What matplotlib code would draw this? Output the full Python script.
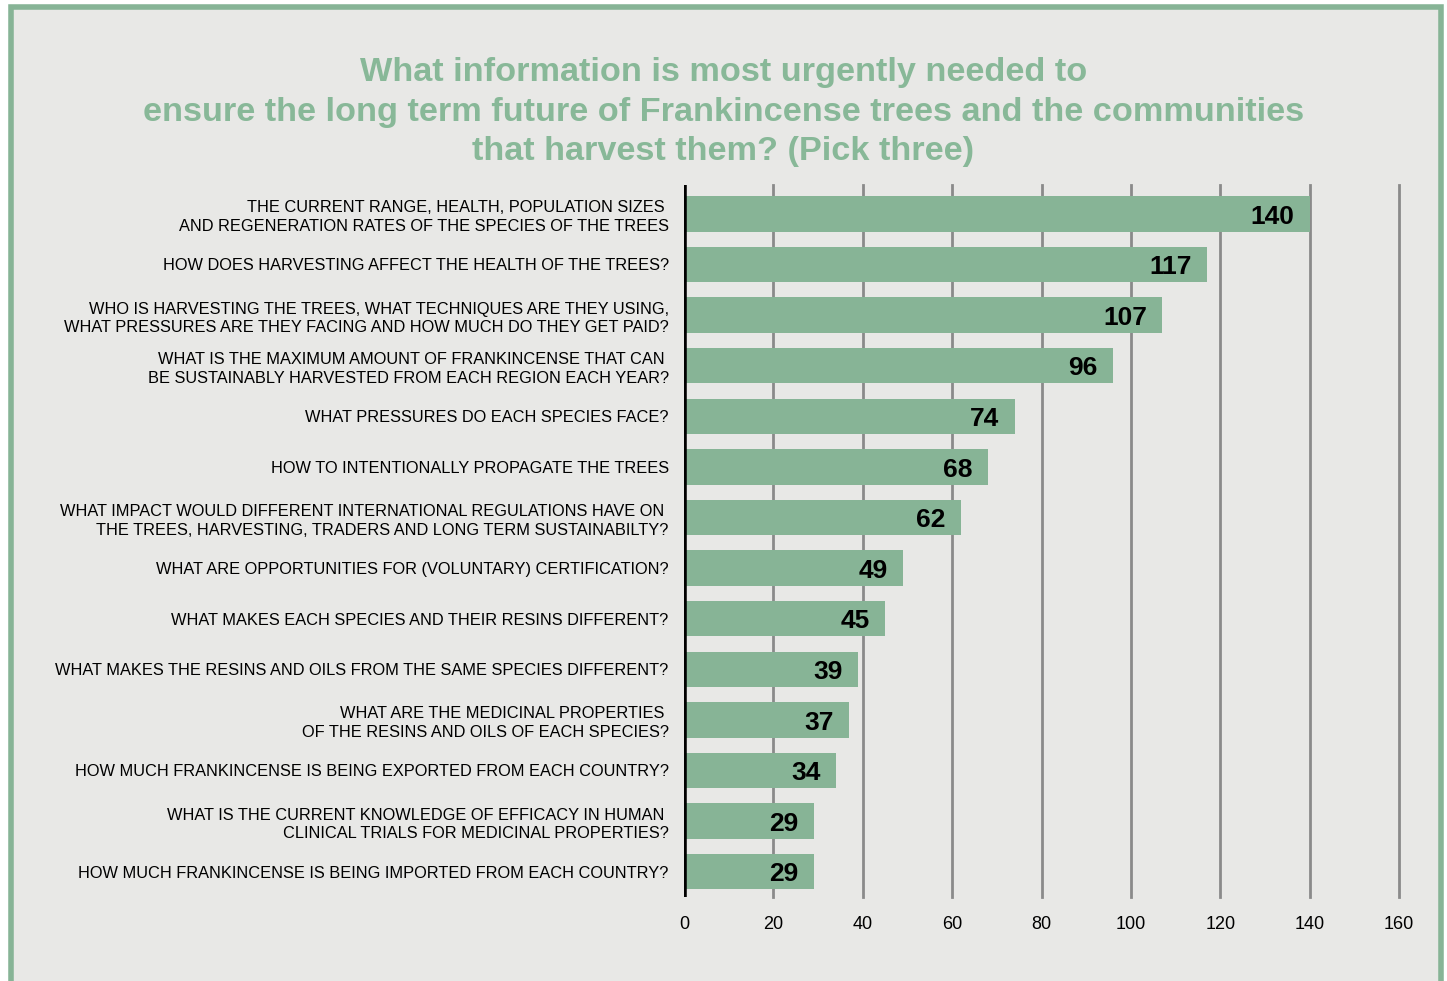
import numpy as np
from matplotlib import pyplot as plt
from matplotlib.patches import Rectangle

plt.rcParams.update({"font.family": ["Liberation Sans", "DejaVu Sans"]})

questions = [
    "THE CURRENT RANGE, HEALTH, POPULATION SIZES \nAND REGENERATION RATES OF THE SPECIES OF THE TREES",
    "HOW DOES HARVESTING AFFECT THE HEALTH OF THE TREES?",
    "WHO IS HARVESTING THE TREES, WHAT TECHNIQUES ARE THEY USING,\nWHAT PRESSURES ARE THEY FACING AND HOW MUCH DO THEY GET PAID?",
    "WHAT IS THE MAXIMUM AMOUNT OF FRANKINCENSE THAT CAN \nBE SUSTAINABLY HARVESTED FROM EACH REGION EACH YEAR?",
    "WHAT PRESSURES DO EACH SPECIES FACE?",
    "HOW TO INTENTIONALLY PROPAGATE THE TREES",
    "WHAT IMPACT WOULD DIFFERENT INTERNATIONAL REGULATIONS HAVE ON \nTHE TREES, HARVESTING, TRADERS AND LONG TERM SUSTAINABILTY?",
    "WHAT ARE OPPORTUNITIES FOR (VOLUNTARY) CERTIFICATION?",
    "WHAT MAKES EACH SPECIES AND THEIR RESINS DIFFERENT?",
    "WHAT MAKES THE RESINS AND OILS FROM THE SAME SPECIES DIFFERENT?",
    "WHAT ARE THE MEDICINAL PROPERTIES \nOF THE RESINS AND OILS OF EACH SPECIES?",
    "HOW MUCH FRANKINCENSE IS BEING EXPORTED FROM EACH COUNTRY?",
    "WHAT IS THE CURRENT KNOWLEDGE OF EFFICACY IN HUMAN \nCLINICAL TRIALS FOR MEDICINAL PROPERTIES?",
    "HOW MUCH FRANKINCENSE IS BEING IMPORTED FROM EACH COUNTRY?",
]
votes = [140, 117, 107, 96, 74, 68, 62, 49, 45, 39, 37, 34, 29, 29]
xticks = [0, 20, 40, 60, 80, 100, 120, 140, 160]

title = ("What information is most urgently needed to\n"
         "ensure the long term future of Frankincense trees and the communities\n"
         "that harvest them? (Pick three)")

green = "#87b496"
bg = "#e8e8e6"

W, H = 1447, 981
fig = plt.figure(figsize=(W / 100, H / 100), dpi=100, facecolor="white")

# frame
fig.patches.append(Rectangle((10.5 / W, -0.05), (1440.5 - 10.5) / W, 1.05 - 7.5 / H,
                             transform=fig.transFigure, facecolor=bg,
                             edgecolor=green, linewidth=4, zorder=-10))

ax = fig.add_axes([684 / W, 1 - 897 / H, (1399 - 684) / W, (897 - 185) / H])
ax.set_facecolor("none")
ax.set_zorder(1)

y = np.arange(len(votes))
ax.barh(y, votes, height=0.7, color=green, zorder=2)
ax.set_xlim(0, 160)
ax.set_ylim(13.5, -0.57)
ax.set_xticks(xticks)
ax.set_xticklabels([str(t) for t in xticks], fontsize=13)
ax.set_yticks(y)
ax.set_yticklabels(questions, fontsize=11.8, linespacing=1.3)
ax.tick_params(axis="both", length=0)
ax.tick_params(axis="x", pad=14)
ax.tick_params(axis="y", pad=11)
for s in ax.spines.values():
    s.set_visible(False)
for t in xticks[1:]:
    ax.axvline(t, color="#8a8a8a", linewidth=2, zorder=1, clip_on=False)
ax.axvline(0, color="black", linewidth=4, zorder=3)

for i, v in enumerate(votes):
    ax.annotate(str(v), (v, i), xytext=(-11, -2), textcoords="offset points",
                ha="right", va="center", fontsize=19, fontweight="bold",
                color="black", zorder=4)

fig.text(0.5, 1 - 112 / H, title, ha="center", va="center", fontsize=24.7,
         fontweight="bold", color="#88b898", linespacing=1.36)

fig.savefig("out.png", dpi=100, facecolor="white")
